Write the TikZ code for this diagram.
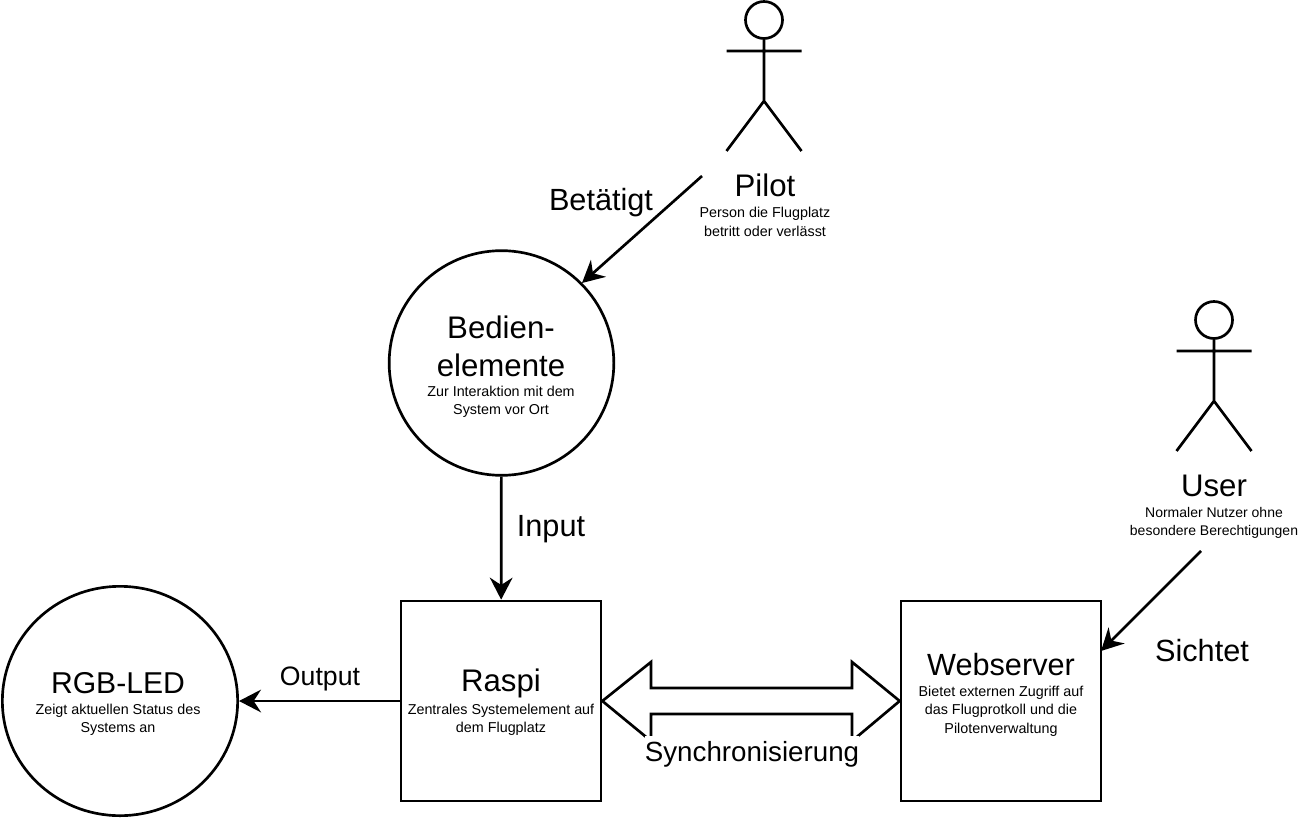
\documentclass[tikz,border=0pt]{standalone}
\usepackage{fontspec}
\setmainfont{Liberation Sans}
\usetikzlibrary{arrows.meta,shapes.geometric}
\tikzset{
  x=0.75pt,y=-0.75pt,
  ln/.style={draw=black,line width=2pt},
  con/.style={ln,-{Stealth[length=16.5pt,width=17pt,inset=5.5pt]}},
  big/.style={font=\fontsize{23.4}{26}\selectfont,inner sep=0pt,align=center},
  small/.style={font=\fontsize{10.75}{13.8}\selectfont,inner sep=0pt,align=center},
  lab/.style={font=\fontsize{23}{26}\selectfont,inner sep=0pt,anchor=center},
}
\newcommand{\actor}[2]{%
  \draw[ln] (#1,#2+19) circle[radius=18.5*0.75pt];
  \draw[ln] (#1,#2+38) -- (#1,#2+100) (#1-37.5,#2+50) -- (#1+37.5,#2+50)
    (#1-37.5,#2+150) -- (#1,#2+100) -- (#1+37.5,#2+150);
}
\begin{document}
\begin{tikzpicture}
\useasboundingbox (0,0) rectangle (1298,820);
\actor{764}{1}
\actor{1214}{301}
\node[ln,circle,minimum size=168.5pt,inner sep=0pt] (bed) at (501.5,363) {};
\node[ln,ellipse,minimum width=176.5pt,minimum height=172pt,inner sep=0pt] (led) at (120,701) {};
\node[ln,minimum size=150pt,inner sep=0pt] (raspi) at (501,701) {};
\node[ln,minimum size=150pt,inner sep=0pt] (web) at (1001,701) {};
\coordinate (pilotend) at (702,176);
\coordinate (userend) at (1201,551);
\coordinate (bedhit) at (582,283);
\coordinate (webhit) at (1101,651);
\draw[con] (pilotend) -- (bedhit);
\draw[con] (userend) -- (webhit);
\draw[con] (bed) -- (raspi);
\draw[con] (raspi) -- (led);
\draw[ln,line join=miter] (raspi.east) -- (651,662) -- (651,688) -- (852,688) -- (852,662) -- (web.west) -- (852,741) -- (852,714) -- (651,714) -- (651,741) -- cycle;
\node[big] (t1) at (765,185) {Pilot};
\node[small] (t1b) at (765,222) {Person die Flugplatz\\betritt oder verlässt};
\node[big] (t2) at (1214,486) {User};
\node[small,font=\fontsize{10.5}{13.8}\selectfont] (t2b) at (1214,523) {Normaler Nutzer ohne\\besondere Berechtigungen};
\node[big] (t3) at (501,327) {Bedien-};
\node[big] (t3c) at (501,365) {elemente};
\node[small] (t3b) at (501,402) {Zur Interaktion mit dem\\System vor Ort};
\node[big,font=\fontsize{22.6}{26}\selectfont] (t4) at (118,683) {RGB-LED};
\node[small] (t4b) at (118,720) {Zeigt aktuellen Status des\\Systems an};
\node[big] (t5) at (501,683) {Raspi};
\node[small] (t5b) at (501,720) {Zentrales Systemelement auf\\dem Flugplatz};
\node[big,font=\fontsize{23}{26}\selectfont] (t6) at (1001,665) {Webserver};
\node[small] (t6b) at (1001,711) {Bietet externen Zugriff auf\\das Flugprotkoll und die\\Pilotenverwaltung};
\node[lab] (l1) at (601,203) {Betätigt};
\node[lab] (l2) at (551,529) {Input};
\node[lab,font=\fontsize{20}{22}\selectfont] (l3) at (320,679) {Output};
\node[lab] (l4) at (1202,651) {Sichtet};
\node[lab,font=\fontsize{20.8}{24}\selectfont,fill=white,minimum width=160pt,minimum height=27pt] (l5) at (752,754) {Synchronisierung};
\end{tikzpicture}
\end{document}
